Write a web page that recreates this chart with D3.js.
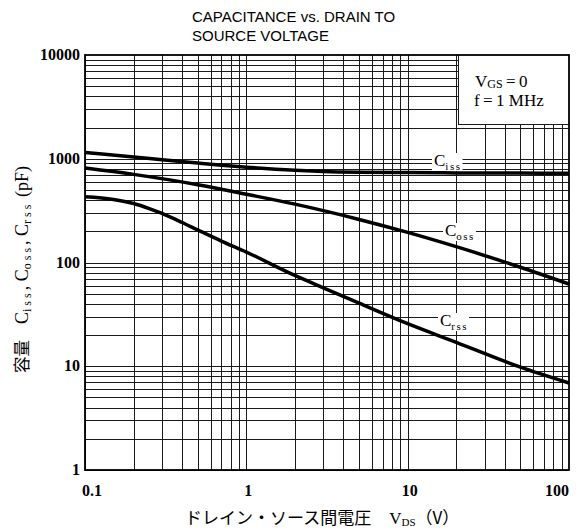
<!DOCTYPE html>
<html><head><meta charset="utf-8">
<script src="https://cdn.jsdelivr.net/npm/d3@7"></script>
<style>body{margin:0;background:#fff}svg{display:block}</style>
</head><body>
<script>
const cissV = [0.1, 0.2, 0.3, 0.5, 1, 2, 3, 5, 10, 20, 50, 100];
const ciss  = [1150, 1040, 980, 910, 830, 775, 755, 742, 735, 730, 728, 725];
const cossV = [0.1, 0.2, 0.5, 1, 2, 5, 10, 20, 50, 100];
const coss  = [814, 707, 562, 455, 365, 260, 195, 142, 90, 62];
const crssV = [0.1, 0.15, 0.2, 0.25, 0.3, 0.4, 0.5, 0.7, 1, 2, 3, 5, 10, 20, 50, 100];
const crss  = [430, 405, 370, 331, 297, 243, 206, 161, 126, 75, 57, 40.5, 25.7, 17, 9.8, 6.9];
const xTicks = [0.1, 1, 10, 100];
const yTicks = [1, 10, 100, 1000, 10000];
const xTickLabels = ["0.1", "1", "10", "100"];
const yTickLabels = ["1", "10", "100", "1000", "10000"];
const titleLines = ["CAPACITANCE vs. DRAIN TO", "SOURCE VOLTAGE"];

const W = 581, H = 530;
const L = 85, R = 569, T = 55, B = 470;
const svg = d3.select("body").append("svg").attr("width", W).attr("height", H);
const x = d3.scaleLog().domain([0.1, 100]).range([L, R]);
const y = d3.scaleLog().domain([1, 10000]).range([B, T]);

// grid
const xg = [], yg = [];
for (let d = 0.1; d < 100; d *= 10) for (let k = 1; k <= 9; k++) xg.push(d * k);
for (let d = 1; d < 10000; d *= 10) for (let k = 1; k <= 9; k++) yg.push(d * k);
const g = svg.append("g");
g.selectAll("line.v").data(xg).join("line")
  .attr("x1", d => Math.round(x(d)) + 0.5).attr("x2", d => Math.round(x(d)) + 0.5)
  .attr("y1", T).attr("y2", B).attr("stroke", "#1a1a1a").attr("stroke-width", 1);
g.selectAll("line.h").data(yg).join("line")
  .attr("y1", d => Math.round(y(d)) + 0.5).attr("y2", d => Math.round(y(d)) + 0.5)
  .attr("x1", L).attr("x2", R).attr("stroke", "#1a1a1a").attr("stroke-width", 1);

// legend box (white)
svg.append("rect").attr("x", 458).attr("y", T).attr("width", R - 458).attr("height", 124 - T)
  .attr("fill", "#fff");
svg.append("line").attr("x1", 458).attr("x2", R).attr("y1", 124.5).attr("y2", 124.5).attr("stroke", "#1a1a1a");
svg.append("line").attr("x1", 458.5).attr("x2", 458.5).attr("y1", T).attr("y2", 124).attr("stroke", "#1a1a1a");

// frame
svg.append("rect").attr("x", L).attr("y", T).attr("width", R - L).attr("height", B - T)
  .attr("fill", "none").attr("stroke", "#000").attr("stroke-width", 1.8);

// curves
const line = d3.line().x(d => x(d[0])).y(d => y(d[1])).curve(d3.curveMonotoneX);
[[cissV, ciss], [cossV, coss], [crssV, crss]].forEach(([vs, s]) => {
  svg.append("path").datum(vs.map((v, i) => [v, s[i]])).attr("d", line)
    .attr("fill", "none").attr("stroke", "#000").attr("stroke-width", 3.5);
});

// curve labels
const serif = "'Liberation Serif','DejaVu Serif',serif";
const jp = "'Noto Sans CJK JP',sans-serif";
function cLabel(px, py, sub) {
  const t = svg.append("text").attr("x", px).attr("y", py).attr("font-family", serif)
    .attr("font-size", 17).attr("fill", "#000");
  t.append("tspan").text("C");
  t.append("tspan").attr("font-size", 11).attr("dy", 4).attr("letter-spacing", 1.5).text(sub);
  const bb = t.node().getBBox();
  svg.insert("rect", () => t.node()).attr("x", bb.x - 2).attr("y", bb.y + 2)
    .attr("width", bb.width + 3).attr("height", bb.height - 3).attr("fill", "#fff");
}
cLabel(434, 166, "iss");
cLabel(445, 236, "oss");
cLabel(440, 326, "rss");

// legend text
const lt = svg.append("text").attr("x", 475).attr("y", 87).attr("font-family", serif)
  .attr("font-size", 17).attr("fill", "#000");
lt.append("tspan").text("V");
lt.append("tspan").attr("font-size", 12).attr("dy", 1).text("GS");
lt.append("tspan").attr("dy", -1).text("\u2009=\u20090");
svg.append("text").attr("x", 474).attr("y", 106).attr("font-family", serif)
  .attr("font-size", 17).attr("fill", "#000").text("f\u2009=\u20091 MHz");

// tick labels
svg.selectAll("text.yt").data(yTicks).join("text")
  .attr("x", 80).attr("y", d => y(d) + 5).attr("text-anchor", "end")
  .attr("font-family", serif).attr("font-size", 16).attr("font-weight", "bold").attr("fill", "#000")
  .text((d, i) => yTickLabels[i]);
svg.selectAll("text.xt").data(xTicks).join("text")
  .attr("x", (d, i) => i === 0 ? L - 3 : (i === 3 ? R - 12 : x(d) + 2))
  .attr("y", 496).attr("text-anchor", (d, i) => i === 0 ? "start" : "middle")
  .attr("font-family", serif).attr("font-size", 16).attr("font-weight", "bold").attr("fill", "#000")
  .text((d, i) => xTickLabels[i]);

// title
const sans = "'Liberation Sans Narrow','Liberation Sans',Arial,sans-serif";
titleLines.forEach((s, i) => {
  svg.append("text").attr("x", 192).attr("y", 22 + i * 19).attr("font-family", sans)
    .attr("font-size", 15).attr("fill", "#000").text(s);
});

// x axis title
const xt = svg.append("text").attr("x", 185).attr("y", 524).attr("font-family", serif)
  .attr("font-size", 17).attr("fill", "#000");
xt.append("tspan").attr("font-family", jp).attr("font-size", 17)
  .text("ドレイン・ソース間電圧");
xt.append("tspan").attr("dx", 18).text("V");
xt.append("tspan").attr("font-size", 11).attr("dy", 2).text("DS");
xt.append("tspan").attr("dy", -2).attr("font-family", jp).attr("font-size", 17).text("（V）");

// y axis title
const yt = svg.append("text").attr("transform", "translate(28,373) rotate(-90)")
  .attr("font-family", serif).attr("font-size", 18).attr("fill", "#000");
yt.append("tspan").attr("font-family", jp).attr("font-size", 16.5).text("容量");
yt.append("tspan").attr("dx", 16).text("C");
yt.append("tspan").attr("font-size", 12).attr("dy", 3).attr("letter-spacing", 3).text("iss");
yt.append("tspan").attr("dy", -3).text(",  C");
yt.append("tspan").attr("font-size", 12).attr("dy", 3).attr("letter-spacing", 3).text("oss");
yt.append("tspan").attr("dy", -3).text(",  C");
yt.append("tspan").attr("font-size", 12).attr("dy", 3).attr("letter-spacing", 3).text("rss");
yt.append("tspan").attr("dy", -3).text("  (pF)");
</script>
</body></html>
